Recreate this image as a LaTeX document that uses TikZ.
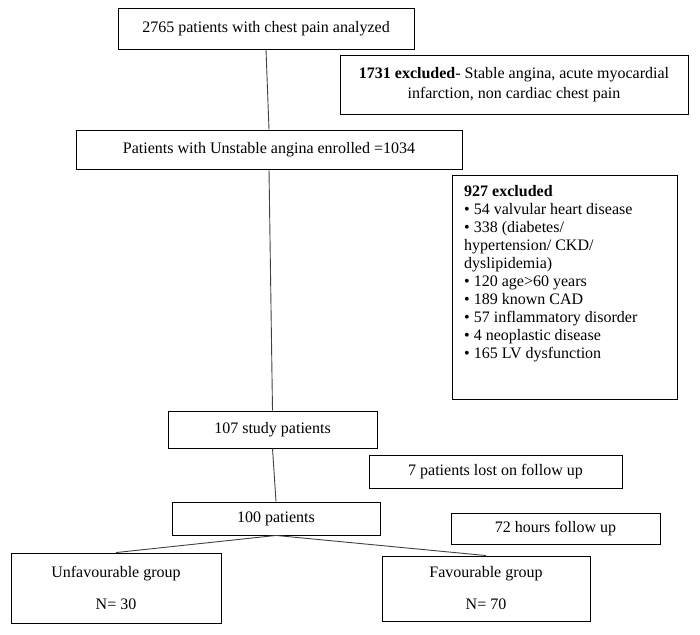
\documentclass[tikz,border=0pt]{standalone}
\usepackage{fontspec}
\setmainfont{Liberation Serif}

\begin{document}
\begin{tikzpicture}[x=1pt, y=-1pt, every node/.style={font=\fontsize{16}{18}\selectfont},
  box/.style={draw, line width=0.9pt, inner sep=0pt, align=center},
  link/.style={draw=black!75, line width=0.9pt}]
\useasboundingbox (0,0) rectangle (700,634);
\node[box, minimum width=296pt, minimum height=41pt] (screened) at (266,28.5) {2765 patients with chest pain analyzed};
\node[box, minimum width=348pt, minimum height=59pt, font=\fontsize{16}{20}\selectfont] (excl1) at (514,84.5) {\textbf{1731 excluded}- Stable angina, acute myocardial\\infarction, non cardiac chest pain};
\node[box, minimum width=386pt, minimum height=39pt] (enrolled) at (269,149.5) {Patients with Unstable angina enrolled =1034};
\node[box, minimum width=225pt, minimum height=224pt] (excl2) at (564.5,287) {};
\node[anchor=north west, inner sep=0pt, align=left] (excllist) at (464,185) {\textbf{927 excluded}\\
  \textbullet\ 54 valvular heart disease\\
  \textbullet\ 338 (diabetes/\\
  hypertension/ CKD/\\
  dyslipidemia)\\
  \textbullet\ 120 age>60 years\\
  \textbullet\ 189 known CAD\\
  \textbullet\ 57 inflammatory disorder\\
  \textbullet\ 4 neoplastic disease\\
  \textbullet\ 165 LV dysfunction};
\node[box, minimum width=209pt, minimum height=37pt] (study) at (272.5,429.5) {107 study patients};
\node[box, minimum width=253pt, minimum height=33pt] (lost) at (495.5,471.5) {7 patients lost on follow up};
\node[box, minimum width=208pt, minimum height=33pt] (followed) at (276,518.5) {100 patients};
\node[box, minimum width=209pt, minimum height=31pt] (hours) at (555.5,528.5) {72 hours follow up};
\node[box, minimum width=210pt, minimum height=70pt] (unfav) at (116,588) {Unfavourable group\\[14pt]N= 30};
\node[box, minimum width=208pt, minimum height=65pt] (fav) at (486,588.5) {Favourable group\\[14pt]N= 70};
\foreach \x/\y in {screened/enrolled, enrolled/study, study/followed} \draw[link] (\x.south)--(\y.north);
\foreach \y in {unfav, fav} \draw[link] (followed.south)--(\y.north);
\end{tikzpicture}
\end{document}
